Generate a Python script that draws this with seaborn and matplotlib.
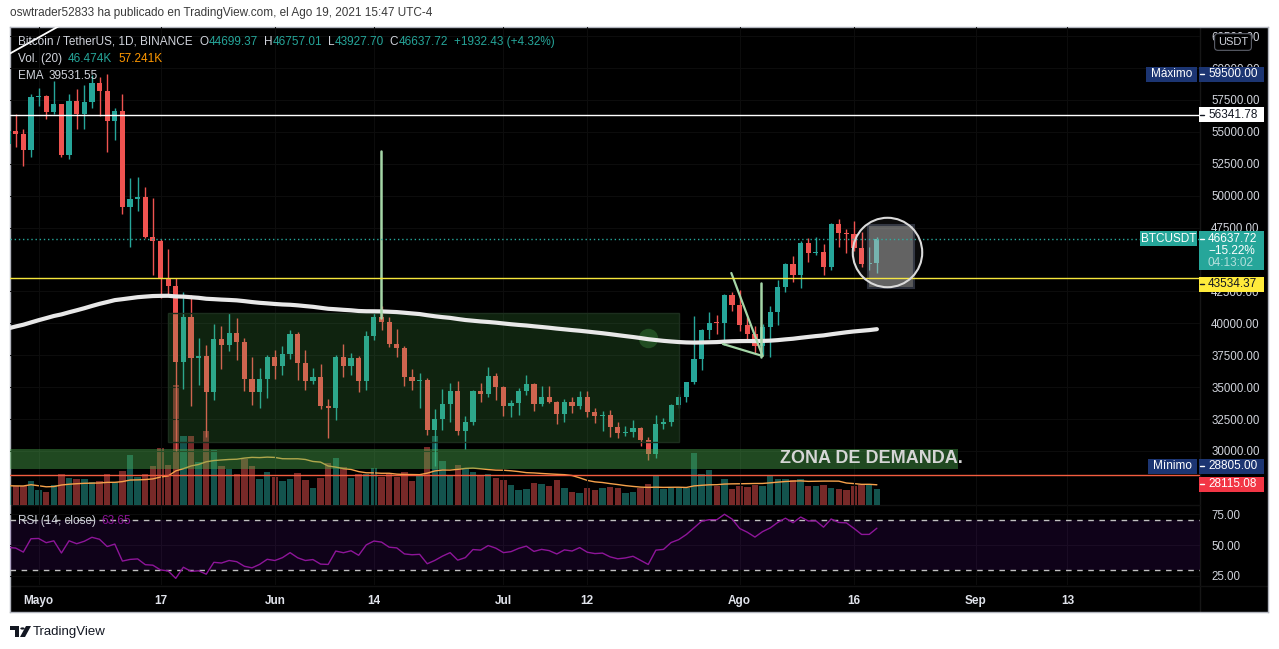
import numpy as np
import pandas as pd
import matplotlib
matplotlib.use("Agg")
import matplotlib.pyplot as plt
import matplotlib.colors as mcolors
import seaborn as sns
from matplotlib.patches import Rectangle, Polygon, Circle

W, H = 1279, 649

# ---- BTCUSDT 1D (Binance) ----
dates = pd.date_range("2021-04-27", "2021-08-19", freq="D")
first_open = 54021
close = [55033, 54824, 53555, 57697,
         57797, 56578, 57169, 53200, 57436, 56393, 57314, 58862, 58240, 55816, 56670, 49150, 49716, 49880, 46760, 46456,
         43537, 42909, 37000, 40516, 37252, 37449, 34655, 38796, 38324, 39241, 38529, 35663, 34605, 35678, 37332,
         36684, 37575, 39188, 36856, 35520, 35797, 33552, 33380, 37388, 36675, 37313, 35494, 39020, 40516, 40144,
         38349, 38092, 35820, 35483, 35600, 31608, 32509, 33678, 34663, 31584, 32283, 34700, 34494, 35911, 35045,
         33504, 33786, 34669, 35287, 33690, 34220, 33862, 32875, 33815, 33502, 34259, 33086, 32729, 32820, 31880,
         31383, 31520, 31778, 30839, 29790, 32144, 32287, 33634, 34258, 35425, 37208, 39457, 40019, 40016, 42206, 41461,
         39845, 39147, 38207, 39723, 40862, 42836, 44614, 43792, 46285, 45543, 45595, 44428, 47793, 47096, 47019,
         45936, 44686, 44705, 46637.72]
high = [55460, 56428, 55196, 57963,
        58458, 57911, 58981, 57200, 57939, 58360, 58650, 59464, 59300, 59500, 56862, 58000, 51367, 51483, 50700, 49795,
        46643, 45800, 43546, 42451, 42250, 38856, 38270, 39920, 39791, 40841, 40411, 38877, 37338, 36488, 37534,
        37894, 38225, 39477, 39289, 37917, 36480, 36800, 34069, 37530, 38400, 37680, 37437, 39380, 41064, 41330,
        40527, 39560, 38202, 36457, 36137, 35750, 33298, 34881, 35298, 35500, 32730, 34749, 35297, 36600, 36100,
        35057, 33977, 34951, 35967, 35293, 35118, 35059, 33929, 34100, 34262, 34666, 34679, 33340, 33114, 33185,
        32249, 31955, 32435, 31899, 31063, 32858, 32591, 33650, 34500, 35398, 40593, 39542, 40900, 40640, 42316, 42448,
        42599, 40459, 39780, 39969, 41350, 43392, 44700, 45310, 46454, 46700, 46743, 46218, 47886, 48144, 47372,
        48053, 47160, 45986, 46757.01]
low = [53222, 53813, 52330, 53013,
       57006, 56035, 56435, 53046, 52900, 55200, 55241, 56900, 56235, 53400, 54370, 48600, 46000, 48800, 46650, 43825,
       42001, 42250, 30000, 34850, 33488, 35200, 31111, 34031, 36419, 37800, 37134, 34684, 33632, 33379, 34153,
       35666, 35920, 37170, 35555, 34800, 35222, 33300, 31000, 32396, 35800, 35936, 34600, 34757, 38730, 39506,
       38116, 37365, 35129, 34803, 33336, 31251, 28805, 31683, 32286, 31275, 30151, 32072, 33862, 34225, 34017,
       32711, 32699, 32850, 34357, 33125, 33532, 33777, 32077, 32261, 33004, 33306, 32658, 32202, 31550, 31133,
       31020, 31164, 31108, 30407, 29278, 29482, 31708, 31924, 33401, 33851, 35255, 36383, 38772, 39200, 38313, 41000,
       39422, 38690, 37642, 37508, 37332, 39853, 42446, 43261, 42779, 44800, 45341, 43770, 44218, 45971, 45500,
       45660, 44376, 44203, 43927.70]
volume_k = [55, 54, 54, 69,
            43, 37, 57, 88, 77, 74, 74, 67, 69, 88, 66, 97, 143, 80, 88, 111,
            163, 114, 343, 197, 197, 123, 211, 157, 111, 103, 88, 131, 111, 74, 94,
            80, 69, 74, 91, 71, 49, 77, 120, 134, 109, 77, 89, 89, 106, 80,
            89, 80, 94, 69, 86, 166, 197, 126, 86, 114, 103, 94, 83, 88, 77,
            71, 57, 43, 46, 63, 60, 54, 71, 49, 37, 34, 49, 43, 49, 51,
            49, 34, 37, 49, 60, 83, 46, 49, 49, 49, 149, 88, 100, 54, 74, 46,
            54, 51, 57, 54, 83, 74, 74, 71, 74, 54, 54, 57, 49, 46, 43,
            54, 57, 57, 46.474]
# closes of Apr 1 - Apr 26 (off screen), only used to warm up the RSI
warmup_close = [58726, 58981, 57094, 58216, 59123, 58019, 55947, 58048, 58102, 59774, 59964, 59834, 63577,
                62959, 63159, 61334, 60006, 56150, 55633, 56425, 53787, 51690, 51125, 50047, 49004, 54021]
ema_seed = 39450   # EMA(200) value just left of the chart

tick_dates = ["2021-05-01", "2021-05-17", "2021-06-01", "2021-06-14", "2021-07-01",
              "2021-07-12", "2021-08-01", "2021-08-16", "2021-09-01", "2021-09-13"]
tick_labels = ["Mayo", "17", "Jun", "14", "Jul", "12", "Ago", "16", "Sep", "13"]
price_ticks = [30000, 32500, 35000, 37500, 40000, 42500, 47500,
               50000, 52500, 55000, 57500, 60000, 62500]
rsi_ticks = [25, 50, 75]

# drawings (day offset from May 1, price)
consol_box = (17.0, 84.0, 30705, 40810)
demand_box = (-3.8, 120.7, 28590, 30157)
spike_lines = [(44.9, 40420, 53510), (94.8, 37364, 43162)]
wedge_lines = [((90.9, 95.0), (43945, 37443)), ((89.8, 95.0), (38383, 37443))]
top_line = ((-4.5, 3.0), (60890, 63400))
focus_box = (108.8, 114.9, 42770, 47706)
focus_circle = (111.3, 45590)
consol_dot = (80.0, 38853)

TEAL = "#26a69a"
RED = "#ef5350"
TXT = "#d1d4dc"
GREEN = (0.30, 0.69, 0.31)

t0 = pd.Timestamp("2021-05-01")
days = np.array([(d - t0).days for d in dates], dtype=float)
opens = [first_open] + close[:-1]
o = np.array(opens, dtype=float)
c = np.array(close, dtype=float)
up = c >= o
cols = [TEAL if u else RED for u in up]

ema = pd.Series([ema_seed] + close).ewm(span=200, adjust=False).mean().iloc[1:].values
vol_ma = pd.Series(volume_k).rolling(20, min_periods=1).mean().values
full = pd.Series(warmup_close + close)
delta = full.diff()
gain = delta.clip(lower=0).ewm(alpha=1 / 14, adjust=False).mean()
loss = (-delta.clip(upper=0)).ewm(alpha=1 / 14, adjust=False).mean()
rsi = (100 - 100 / (1 + gain / loss)).iloc[-len(close):].values

sns.set_theme(style="dark")
plt.rcParams["font.family"] = ["Liberation Sans", "DejaVu Sans"]


def rect(x0, y0, x1, y1):
    return [x0 / W, 1 - y1 / H, (x1 - x0) / W, (y1 - y0) / H]


fig = plt.figure(figsize=(W / 100, H / 100), dpi=100, facecolor="white")

frame = fig.add_axes(rect(10, 27, 1268, 612))
frame.set_facecolor("black")
frame.set_xticks([])
frame.set_yticks([])
for s in frame.spines.values():
    s.set_color("#b2b5be")
    s.set_linewidth(1)
frame.set_xlim(10, 1268)
frame.set_ylim(612, 27)
frame.plot([1199.5, 1199.5], [27, 612], color="#161616", lw=1)
frame.plot([10, 1200], [505, 505], color="#111111", lw=1)
frame.plot([10, 1268], [586, 586], color="#111111", lw=1)

ax_vol = fig.add_axes(rect(10, 27, 1200, 505), label="vol")
ax = fig.add_axes(rect(10, 27, 1200, 505), sharex=ax_vol, label="price")
ax_rsi = fig.add_axes(rect(10, 505, 1200, 585), sharex=ax, label="rsi")
for a in (ax_vol, ax, ax_rsi):
    a.set_facecolor("none")
    for s in a.spines.values():
        s.set_visible(False)

ax.set_xlim(-3.75, 152.4)
ax.set_ylim(25769, 63218)
ax_vol.set_ylim(0, 478 / 0.35)
ax_rsi.set_ylim(17.74, 82.26)

# volume
vcols = [mcolors.to_rgba(TEAL if u else RED, 0.5) for u in up]
ax_vol.bar(days, volume_k, width=0.84, color=vcols, linewidth=0)
sns.lineplot(x=days, y=vol_ma, ax=ax_vol, color="#f7a24b", lw=1)
ax_vol.set_yticks([])
ax_vol.tick_params(axis="x", labelbottom=False, length=0)
ax_vol.set_xlabel("")
ax_vol.set_ylabel("")

# grid
ax.set_yticks(price_ticks)
tick_pos = [(pd.Timestamp(t) - t0).days for t in tick_dates]
ax_rsi.set_xticks(tick_pos)
ax_rsi.set_xticklabels(tick_labels)
ax.grid(True, color="#0c0c0c", lw=0.8, zorder=0)
ax_rsi.grid(True, color="#0c0c0c", lw=0.8, zorder=0)

# candles
ax.vlines(days, low, high, colors=cols, lw=1, zorder=2)
body_lo = np.minimum(o, c)
body_h = np.maximum(np.abs(c - o), 80)
ax.bar(days, body_h, bottom=body_lo, width=0.68, color=cols, linewidth=0, zorder=2.1)

# zones and drawings
d0, d1, p0, p1 = consol_box
ax.add_patch(Rectangle((d0, p0), d1 - d0, p1 - p0, fc=GREEN + (0.2,), ec="#1c2e1e", lw=1, zorder=3))
ax.plot(*consol_dot, "o", ms=14, color=GREEN, alpha=0.3, mec="none", zorder=3.1)
d0, d1, p0, p1 = demand_box
ax.add_patch(Rectangle((d0, p0), d1 - d0, p1 - p0, fc=GREEN + (0.42,), ec="none", zorder=3))
ax.text(97.3, (p0 + p1) / 2, "ZONA DE DEMANDA.", color="#d6d6d6", fontsize=13, fontweight="bold",
        ha="left", va="center", zorder=6)

sns.lineplot(x=days, y=ema, ax=ax, color="#e8e8e8", lw=3, zorder=4)

for xd, pa, pb in spike_lines:
    ax.plot([xd, xd], [pa, pb], color="#a5d6a7", lw=1.8, zorder=5)
for xs, ys in wedge_lines:
    ax.plot(xs, ys, color="#a5d6a7", lw=1.6, zorder=5)
ax.plot(*top_line, color="white", lw=1.3, zorder=5)

d0, d1, p0, p1 = focus_box
ax.add_patch(Rectangle((d0, p0), d1 - d0, p1 - p0, fc=(0.75, 0.75, 0.75, 0.48), ec="#2a2e39", lw=1.5, zorder=5))
ax.plot(*focus_circle, "o", ms=50, mfc=(1, 1, 1, 0.05), mec="#dadada", mew=1.5, zorder=5.1)

# horizontal levels
ax.axhline(56341.78, color="white", lw=1, zorder=5)
ax.axhline(43534.37, color="#f5e63c", lw=1, zorder=5)
ax.axhline(28115.08, color="#f25c3f", lw=1, zorder=5)
ax.axhline(46637.72, color=TEAL, lw=1, ls=(0, (1, 2)), zorder=5)

ax.set_xlabel("")
ax.set_ylabel("")
ax.yaxis.set_ticks_position("right")
ax.tick_params(axis="y", length=0, pad=8, labelcolor=TXT, labelsize=8.3)
ax.yaxis.set_major_formatter(matplotlib.ticker.StrMethodFormatter("{x:.2f}"))
ax.tick_params(axis="x", labelbottom=False, length=0)

# RSI pane
ax_rsi.axhspan(30, 70, color="#9915ff", alpha=0.1, lw=0)
for lvl in (70, 30):
    ax_rsi.axhline(lvl, color="#c0c0c0", lw=1, ls=(0, (4, 4)))
sns.lineplot(x=days, y=rsi, ax=ax_rsi, color="#8e1599", lw=1)
ax_rsi.set_xlabel("")
ax_rsi.set_ylabel("")
ax_rsi.set_yticks(rsi_ticks)
ax_rsi.yaxis.set_ticks_position("right")
ax_rsi.yaxis.set_major_formatter(matplotlib.ticker.StrMethodFormatter("{x:.2f}"))
ax_rsi.tick_params(axis="y", length=0, pad=8, labelcolor=TXT, labelsize=8.3)
ax_rsi.tick_params(axis="x", length=0, pad=7, labelcolor="#e0e3eb", labelsize=8.5)
for lab in ax_rsi.get_xticklabels():
    lab.set_fontweight("bold")


# price scale tags, laid out in figure pixels (y measured from the top)
def price_px(axis, price):
    return H - axis.transData.transform((0, price))[1]


def pixel_box(x0, x1, yc, h, fc):
    fig.add_artist(Rectangle((x0 / W, 1 - (yc + h / 2) / H), (x1 - x0) / W, h / H,
                             transform=fig.transFigure, fc=fc, ec="none", zorder=30))


def tag(axis, price, lines, fc, tc, dy=0):
    yc0 = price_px(axis, price) + dy
    n = len(lines)
    h = 15 + 12 * (n - 1)
    yc = yc0 + 6 * (n - 1)
    pixel_box(1199, 1264, yc, h, fc)
    fig.add_artist(plt.Line2D([1200 / W, 1204 / W], [1 - yc0 / H] * 2, color=tc, lw=1,
                              transform=fig.transFigure, zorder=31))
    for i, (s, col) in enumerate(lines):
        fig.text(1208 / W, 1 - (yc0 + 12 * i) / H, s, color=col or tc, fontsize=8.5,
                 ha="left", va="center", zorder=32)


def side_tag(axis, price, text, fc, x0):
    yc = price_px(axis, price)
    pixel_box(x0, 1197, yc, 15, fc)
    fig.text((x0 + 1197) / 2 / W, 1 - yc / H, text, color="white", fontsize=8.5,
             ha="center", va="center", zorder=32)


NAVY = "#1c3572"
side_tag(ax, 59500, "Máximo", NAVY, 1146)
tag(ax, 59500, [("59500.00", None)], NAVY, "white")
tag(ax, 56341.78, [("56341.78", None)], "white", "#131722")
side_tag(ax, 46637.72, "BTCUSDT", TEAL, 1140)
tag(ax, 46637.72, [("46637.72", None), ("−15.22%", None), ("04:13:02", "#b2dfdb")], TEAL, "white")
tag(ax, 43534.37, [("43534.37", None)], "#ffeb3b", "#131722", dy=6)
side_tag(ax, 28805, "Mínimo", NAVY, 1148)
tag(ax, 28805, [("28805.00", None)], NAVY, "white")
tag(ax, 28115.08, [("28115.08", None)], "#f23645", "white", dy=9)

fig.text(1233 / W, 1 - 42 / H, "USDT", color=TXT, fontsize=8, ha="center", va="center", zorder=40,
         bbox=dict(boxstyle="round,pad=0.3,rounding_size=0.3", fc="black", ec="#5d606b", lw=0.8))

# header and legends
renderer = fig.canvas.get_renderer()


def text_run(x_px, y_px, parts, size=8.5):
    x = x_px
    for s, col, gap in parts:
        t = fig.text(x / W, 1 - y_px / H, s, color=col, fontsize=size, ha="left", va="center", zorder=40)
        x += t.get_window_extent(renderer).width + gap


fig.text(10 / W, 1 - 13 / H, "oswtrader52833 ha publicado en TradingView.com, el Ago 19, 2021 15:47 UTC-4",
         color="#3a3a3a", fontsize=8.5, ha="left", va="center")
text_run(18, 42, [("Bitcoin / TetherUS, 1D, BINANCE", TXT, 7), ("O", TXT, 0), ("44699.37", TEAL, 6),
                  ("H", TXT, 0), ("46757.01", TEAL, 6), ("L", TXT, 0), ("43927.70", TEAL, 6),
                  ("C", TXT, 0), ("46637.72", TEAL, 6), ("+1932.43 (+4.32%)", TEAL, 0)])
text_run(18, 59, [("Vol. (20)", TXT, 6), ("46.474K", TEAL, 6), ("57.241K", "#ff9800", 0)])
text_run(18, 76, [("EMA", TXT, 5), ("39531.55", TXT, 0)])
text_run(18, 521, [("RSI (14, close)", TXT, 5), ("63.65", "#8e1599", 0)])


# TradingView logo
def px_poly(pts, **kw):
    fig.add_artist(Polygon([(x / W, 1 - y / H) for x, y in pts], closed=True,
                           transform=fig.transFigure, **kw))


px_poly([(10, 626), (19, 626), (19, 637), (15, 637), (15, 630), (10, 630)], fc="#131722", ec="none")
fig.add_artist(Circle((22.5 / W, 1 - 628.5 / H), 2.2 / W, transform=fig.transFigure, fc="#131722", ec="none"))
px_poly([(26, 626), (31, 626), (25, 637), (20, 637)], fc="#131722", ec="none")
fig.text(33 / W, 1 - 632 / H, "TradingView", color="#131722", fontsize=9.5, ha="left", va="center")

fig.savefig("out.png", dpi=100, facecolor="white")
